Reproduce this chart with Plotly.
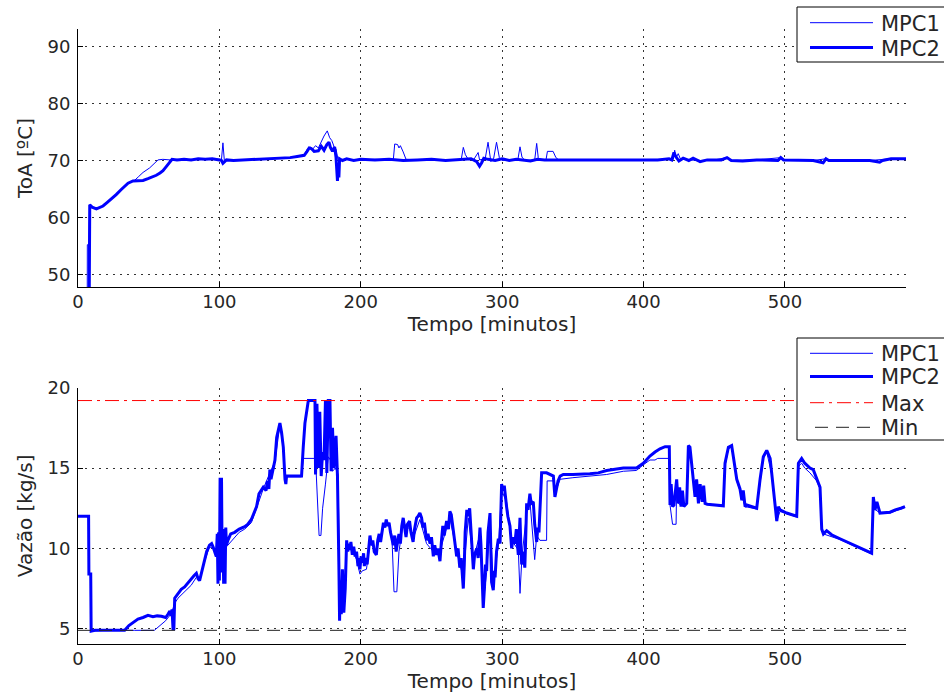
import plotly.graph_objects as go

# ---------------- data ----------------
x_range = [0, 585.6]
x_ticks = [0, 100, 200, 300, 400, 500]

# Outlet temperature (ToA) under the two controllers
t_toa_mpc1 = [0, 6.5, 6.6, 7.8, 8.2, 8.3, 10, 13, 17.7, 20.5, 23.6, 27, 30.6, 33, 35.4, 38.9,
              40, 43, 46, 50.7, 54, 56.6, 60, 65, 70, 75, 80, 85, 90, 95, 100, 101.5, 102.5,
              103.5, 105, 110, 120, 130, 140, 150, 155, 160, 162, 164, 166, 168, 170, 172,
              174, 176.3, 178, 179.5, 181, 182.5, 184, 186, 190, 200, 210, 220, 223, 224,
              226, 227, 228, 230, 232, 240, 250, 260, 271, 272.5, 274, 276, 280, 283, 284,
              288, 290, 292, 294, 296, 298, 300, 305, 311, 312.6, 314, 316, 323, 324.4,
              325.5, 327, 331, 332, 336, 338, 340, 360, 380, 400, 410, 418, 421, 422, 423,
              424.5, 426, 432, 440, 450, 459, 462, 480, 497, 499, 520, 529, 531, 560, 575,
              585.6]
toa_mpc1 = [40, 40, 55.2, 55.2, 62.2, 62.2, 61.8, 61.5, 62.0, 62.6, 63.2, 64.0, 64.9, 65.5,
            66.0, 66.4, 66.5, 67.2, 67.9, 68.7, 69.5, 70.1, 70.2, 70.1, 70.2, 70.1, 70.2,
            70.1, 70.3, 70.2, 70.1, 70.2, 73.1, 70.0, 70.1, 70.0, 70.1, 70.2, 70.3, 70.5,
            70.6, 71.0, 71.9, 72.4, 72.0, 72.6, 72.2, 73.3, 74.3, 75.2, 74.0, 73.5, 72.5,
            72.0, 70.0, 70.1, 70.2, 70.1, 70.2, 70.1, 70.1, 72.9, 72.8, 72.2, 72.6, 71.5,
            70.2, 70.1, 70.2, 70.0, 70.1, 72.3, 71.0, 70.2, 70.2, 71.4, 70.1, 70.3, 73.2,
            69.8, 70.4, 73.2, 70.5, 70.0, 70.1, 70.0, 72.4, 70.6, 70.0, 70.1, 73.0, 70.5,
            70.0, 70.1, 71.6, 71.6, 70.5, 70.1, 70.1, 70.1, 70.2, 70.1, 70.2, 70.2, 71.8,
            70.5, 71.2, 70.3, 70.1, 70.0, 70.1, 70.5, 70.0, 70.1, 70.5, 70.1, 70.0, 70.3,
            70.0, 70.0, 70.3, 70.3]

t_toa_mpc2 = [0, 7.8, 8.3, 10, 13, 17.7, 20.5, 23.6, 27, 30.6, 33, 35.4, 38.9, 42, 46, 49.5,
              52, 55.4, 58, 60.1, 62, 63.6, 65.5, 66.5, 70, 75, 80, 85, 90, 95, 100, 101.5,
              102.5, 103.5, 105, 110, 120, 130, 140, 150, 155, 160, 162, 163.5, 165, 167,
              170, 172, 174, 176, 177.5, 178.5, 180, 181.5, 182.5, 183, 183.5, 184, 184.5,
              185, 187, 190, 195, 200, 210, 220, 230, 240, 250, 260, 270, 278, 282, 284,
              285.5, 287, 290, 295, 300, 305, 310, 315, 320, 325, 330, 350, 380, 400, 410,
              418, 420, 421.5, 423, 425, 428, 432, 435, 440, 445, 455, 459, 462, 470, 480,
              495, 497, 499, 520, 527, 529, 531, 560, 567, 569, 575, 585.6]
toa_mpc2 = [40, 40, 62.2, 61.8, 61.5, 62.0, 62.6, 63.2, 64.0, 64.9, 65.5, 66.0, 66.4, 66.4,
            66.5, 66.8, 67.0, 67.4, 67.8, 68.2, 68.8, 69.3, 70.0, 70.2, 70.1, 70.2, 70.1,
            70.3, 70.2, 70.3, 70.1, 70.0, 69.5, 69.8, 70.1, 70.0, 70.1, 70.2, 70.3, 70.5,
            70.7, 70.9, 71.6, 72.2, 72.1, 71.6, 71.7, 72.5, 71.8, 72.8, 73.2, 72.3, 71.6,
            72.4, 70.5, 67.5, 66.4, 69.5, 67.0, 70.3, 70.0, 70.3, 70.0, 70.2, 70.1, 70.2,
            70.0, 70.1, 70.2, 70.0, 70.1, 70.3, 69.8, 69.0, 69.6, 70.4, 70.2, 70.0, 70.3,
            70.0, 70.2, 70.0, 69.9, 70.2, 70.1, 70.1, 70.1, 70.2, 70.1, 70.3, 70.1, 71.4,
            70.6, 69.9, 70.4, 70.0, 70.4, 69.8, 70.1, 70.1, 70.5, 70.0, 69.9, 70.1, 70.0,
            70.5, 70.1, 70.0, 69.6, 70.3, 70.0, 70.0, 69.7, 70.0, 70.3, 70.3]

# Steam flow (Vazão) under the two controllers
t_flow_mpc1 = [0, 7.5, 7.7, 9.0, 9.3, 20, 40, 54, 58, 62, 66, 68.5, 70.7, 75.4, 80, 83.7, 86,
               89.6, 93, 95.5, 97.8, 99, 100.5, 102, 104, 106, 110.8, 114, 117.9, 122.6,
               126.3, 131, 135.7, 139.3, 142.8, 145.2, 146.4, 147.5, 158.1, 159.3, 168,
               169.5, 170.5, 171.8, 173, 175, 177, 178.5, 180, 182, 184, 184.8, 186, 188,
               190, 193, 197, 199.4, 201, 204, 206.5, 211, 215.9, 220, 222, 223.5, 225.5,
               227, 230, 234.5, 237, 241.8, 246.5, 251.3, 256, 260.7, 263, 267.8, 272.5,
               276, 279.6, 284.3, 286.6, 289, 291.4, 293.7, 297.3, 299.6, 303.1, 306.7,
               311.4, 312.6, 314, 317.3, 319.6, 323, 324.4, 326.7, 331.4, 331.8, 336.2,
               337.3, 341, 350, 362, 373.9, 385.7, 395, 399.8, 404.5, 408.1, 410, 418.2,
               418.7, 420.5, 423, 423.4, 424.5, 426.5, 430.5, 431.7, 434, 436.4, 440,
               443.5, 456.4, 457.6, 460, 462.3, 465.9, 468.2, 471.8, 480, 482.4, 484.7,
               487.1, 490.6, 493, 494.2, 496.5, 508.3, 509.5, 511.8, 514, 517.7, 522.4,
               524.8, 526, 527.2, 538.9, 550.7, 561.3, 562.5, 567.2, 574.3, 584.9]
flow_mpc1 = [12.0, 12.0, 8.4, 8.4, 4.85, 4.9, 4.9, 4.9, 5.2, 5.5, 5.95, 6.6, 6.9, 7.3, 7.7,
             8.2, 8.0, 9.2, 10.1, 10.0, 9.5, 10.8, 9.5, 11.0, 10.0, 10.2, 10.7, 11.0, 11.2,
             11.6, 12.5, 13.7, 14.7, 15.4, 17.7, 16.2, 14.3, 14.45, 14.45, 15.6, 15.6, 13.0,
             10.8, 10.8, 12.5, 14.0, 15.7, 15.5, 14.8, 15.0, 14.6, 8.0, 6.5, 7.0, 10.3,
             10.1, 9.3, 8.4, 8.6, 8.7, 10.3, 9.9, 11.4, 11.5, 10.8, 7.3, 7.3, 9.8, 11.6,
             11.2, 10.6, 11.8, 10.3, 9.8, 9.8, 11.3, 11.9, 9.8, 8.2, 11.9, 9.3, 10.9, 6.6,
             8.5, 11.7, 7.9, 10.2, 13.6, 12.9, 10.5, 9.9, 7.2, 9.5, 12.2, 13.0, 9.3, 10.8,
             10.5, 10.5, 14.2, 14.2, 13.4, 14.3, 14.4, 14.5, 14.6, 14.8, 14.85, 15.2, 15.5,
             15.5, 15.6, 15.6, 12.7, 11.5, 11.5, 14.0, 12.8, 12.7, 12.8, 16.2, 15.2, 13.3,
             13.9, 12.8, 12.6, 15.1, 16.2, 16.3, 14.2, 13.6, 12.6, 12.45, 14.2, 15.6, 16.0,
             14.6, 12.6, 11.7, 12.3, 11.95, 15.1, 15.3, 15.0, 14.7, 14.2, 13.7, 11.2, 10.9,
             10.55, 10.05, 9.65, 12.5, 12.2, 12.2, 12.55]

t_flow_mpc2 = [0, 7.5, 7.7, 9.0, 9.3, 12, 20, 33, 36, 40,
               42.4, 46, 49.5, 53, 56, 59, 62, 63.6, 65, 66,
               66.5, 67.2, 67.8, 68.4, 70.7, 73, 75.4, 78, 80, 82,
               83.7, 85, 86, 88, 89.6, 91, 93, 94.5, 95.5, 97,
               97.8, 98.5, 99, 99.5, 100, 100.5, 101, 101.5, 102, 102.5,
               103, 103.5, 104, 104.5, 105, 106, 108, 110.8, 114, 117.9,
               120, 122.6, 125, 126.3, 128, 131, 133, 134, 135, 135.7,
               136.5, 138.1, 139.3, 140.5, 142, 142.8, 144, 145.2, 146.4, 147,
               147.5, 158.1, 159.3, 160.5, 162.9, 167.6, 168, 169, 170, 171,
               172, 173, 174, 175, 176, 177, 178.2, 179, 180, 181,
               182.5, 183.5, 184.5, 185, 185.5, 186.2, 187, 188, 189,
               190, 190.8, 191.5, 192.3, 193, 194, 195, 196, 197, 198,
               198.8, 199.4, 200.2, 201, 202, 202.5, 203.5, 204.5, 205.5, 206.5,
               207.5, 208.5, 209.5, 211, 212, 213, 214, 215, 216, 217,
               218, 219, 220, 221, 222, 223, 224, 225, 226, 227,
               228, 229, 230, 231, 232, 233, 234.5, 235.5, 237, 238,
               239.5, 240.5, 241.8, 243, 244, 245, 246.5, 247.5, 249, 250,
               251.3, 252.3, 253.5, 254.5, 256, 257, 258, 259, 260.7, 262,
               263, 264, 265, 266, 267.8, 268.8, 270, 271, 272.5, 273.2,
               273.8, 275, 276, 277, 278, 279, 279.6, 280.5, 282, 283,
               284.3, 285, 285.5, 286.6, 287.5, 288.2, 289, 290, 291.4, 292,
               292.5, 293.7, 294.5, 295, 296, 297.3, 298.5, 299.6, 300.5, 301.5,
               302.3, 303.1, 304, 305.5, 306.7, 307.8, 309, 310, 311.4, 312.6,
               313.2, 313.8, 315, 316, 316.6, 317.3, 318.3, 319.6, 320.5, 322,
               323, 324.4, 325.2, 326,
               327.9, 331.4, 336.2, 337.3, 339.5, 341, 343.2, 350, 362, 368,
               373.9, 380, 385.7, 390, 395, 399.8, 404.5, 408.1, 411.6, 415.2,
               418.2, 418.7, 419.5, 420.5, 421.5, 423.4, 424.5, 425.5, 426.5, 427.5,
               428.5, 430.5, 431.7, 432.8, 434, 435, 436.4, 437.5, 438.8, 440,
               441.5, 442.5, 443.5, 445, 450, 456.4, 457.6, 460, 462.3, 463.5,
               465.9, 468.2, 469.5, 470.5, 471.8, 473, 476, 480, 482.4, 484.7,
               487.1, 489.5, 490.6, 491.8, 493, 494.2, 495.3, 496.5, 501.2, 505,
               508.3, 509.5, 511.8, 514, 517.7, 520, 522.4, 524.8, 526, 527.2,
               529.5, 533, 538.9, 545, 550.7, 556, 561.3, 562.5, 563.7, 565,
               567.2, 574.3, 578, 582, 584.9]
flow_mpc2 = [12.0, 12.0, 8.4, 8.4, 4.85, 4.9, 4.9, 4.9, 5.2, 5.45,
             5.6, 5.7, 5.83, 5.75, 5.8, 5.78, 5.7, 5.9, 6.1, 5.8,
             6.2, 5.0, 5.0, 6.9, 7.2, 7.45, 7.6, 7.9, 8.1, 8.3,
             8.45, 8.1, 8.0, 8.7, 9.3, 9.8, 10.2, 10.3, 10.1, 9.7,
             9.5, 10.9, 7.8, 11.0, 8.0, 14.4, 9.0, 14.4, 8.5, 11.2,
             7.8, 11.0, 7.8, 11.3, 10.2, 10.5, 10.9, 11.0, 11.2, 11.35,
             11.5, 11.8, 12.3, 12.6, 13.4, 13.8, 13.6, 14.2, 13.7, 14.9,
             14.3, 15.1, 15.5, 16.9, 17.4, 17.8, 17.2, 16.3, 14.3, 14.0,
             14.5, 14.5, 16.3, 17.8, 19.2, 19.2, 14.6, 19.0, 15.0, 18.5,
             14.5, 16.0, 15.5, 19.2, 14.7, 19.2, 19.2, 14.8, 17.5, 15.0,
             17.0, 14.5, 9.0, 5.5, 8.0, 5.9, 8.7, 6.0, 7.5,
             10.5, 9.8, 10.3, 9.9, 10.4, 9.6, 10.1, 9.5, 9.8, 8.9,
             9.4, 8.7, 9.5, 9.1, 9.7, 8.9, 9.4, 9.0, 10.2, 10.8,
             10.2, 10.5, 9.8, 9.6, 10.5, 10.9, 10.4, 11.2, 11.6, 11.3,
             11.8, 11.4, 11.6, 11.0, 10.6, 10.2, 10.8, 9.8, 10.4, 10.9,
             10.3, 11.4, 11.9, 11.2, 10.7, 11.5, 11.7, 11.0, 10.4, 11.2,
             11.9, 12.0, 12.2, 11.9, 11.3, 11.6, 10.5, 10.9, 10.3, 10.7,
             9.5, 10.2, 9.6, 10.0, 9.2, 10.4, 11.4, 10.8, 11.7, 11.2,
             12.3, 12.1, 11.5, 10.6, 9.5, 10.0, 8.8, 9.4, 7.5, 9.0,
             11.0, 12.4, 12.0, 12.5, 11.0, 9.5, 8.7, 9.6, 10.0, 9.4,
             11.3, 10.2, 8.7, 6.3, 7.6, 9.0, 8.6, 11.0, 12.2, 10.0,
             7.9, 7.4, 8.6, 8.2, 9.8, 10.6, 10.3, 14.0, 13.6, 13.9,
             13.0, 12.6, 12.0, 11.4, 10.0, 10.7, 10.3, 11.2, 9.6, 11.9,
             10.2, 9.0, 9.8, 8.8, 10.5, 12.8, 12.4, 13.4, 12.8, 12.9,
             11.5, 10.4, 11.3, 11.0,
             14.7, 14.7, 14.5, 13.2, 14.2, 14.5, 14.6, 14.6, 14.65, 14.7,
             14.85, 14.95, 15.0, 15.0, 15.0, 15.3, 15.75, 16.0, 16.2, 16.33,
             16.33, 12.7, 14.0, 12.6, 12.7, 14.3, 12.8, 13.8, 12.6, 13.6,
             12.6, 12.8, 16.4, 16.3, 15.3, 14.4, 13.2, 14.3, 12.8, 14.0,
             12.9, 13.9, 12.8, 12.75, 12.7, 12.65, 15.3, 16.3, 16.4, 15.7,
             14.3, 13.7, 13.0, 13.6, 12.6, 12.7, 12.6, 12.5, 14.3, 15.7,
             16.1, 15.6, 14.7, 13.6, 12.6, 11.7, 12.6, 12.4, 12.2, 12.1,
             12.0, 15.3, 15.6, 15.3, 15.0, 14.9, 14.3, 13.8, 11.2, 10.9,
             11.1, 10.85, 10.6, 10.35, 10.1, 9.9, 9.7, 13.2, 12.4, 12.9,
             12.2, 12.25, 12.4, 12.5, 12.6]

flow_max = 19.2
flow_min = 4.9

toa_range = [47.77, 93.1]
toa_ticks = [50, 60, 70, 80, 90]
flow_range = [4.05, 20.0]
flow_ticks = [5, 10, 15, 20]

for xs, ys in [(t_toa_mpc1, toa_mpc1), (t_toa_mpc2, toa_mpc2),
               (t_flow_mpc1, flow_mpc1), (t_flow_mpc2, flow_mpc2)]:
    assert len(xs) == len(ys), (len(xs), len(ys))

# ---------------- styling ----------------
W, H = 944, 695
BLUE = "#0000ff"
TXT = "#262626"
FONT = "DejaVu Sans"
FS_TICK = 18
FS_TITLE = 20
FS_LEG = 21
MAX_DASH = "14px,5px,3px,5px"
MIN_DASH = "13px,8px"


def px_x(p):
    return p / W


def px_y(p):
    return 1 - p / H


fig = go.Figure()

fig.add_trace(go.Scatter(x=t_toa_mpc1, y=toa_mpc1, mode="lines", name="MPC1",
                         line=dict(color=BLUE, width=1), xaxis="x", yaxis="y"))
fig.add_trace(go.Scatter(x=t_toa_mpc2, y=toa_mpc2, mode="lines", name="MPC2",
                         line=dict(color=BLUE, width=3), xaxis="x", yaxis="y"))
fig.add_trace(go.Scatter(x=t_flow_mpc1, y=flow_mpc1, mode="lines", name="MPC1",
                         line=dict(color=BLUE, width=1), xaxis="x2", yaxis="y2"))
fig.add_trace(go.Scatter(x=t_flow_mpc2, y=flow_mpc2, mode="lines", name="MPC2",
                         line=dict(color=BLUE, width=3), xaxis="x2", yaxis="y2"))
fig.add_trace(go.Scatter(x=x_range, y=[flow_max, flow_max], mode="lines", name="Max",
                         line=dict(color="#ff0000", width=1, dash=MAX_DASH),
                         xaxis="x2", yaxis="y2"))
fig.add_trace(go.Scatter(x=x_range, y=[flow_min, flow_min], mode="lines", name="Min",
                         line=dict(color="#222222", width=1, dash=MIN_DASH),
                         xaxis="x2", yaxis="y2"))

axis_common = dict(
    automargin=False,
    showline=True, linecolor="#000000", linewidth=1, mirror=False,
    ticks="inside", ticklen=5, tickcolor="#000000",
    showgrid=True, gridcolor="#333333", gridwidth=1, griddash="2px,5px",
    zeroline=False,
    tickfont=dict(family=FONT, size=FS_TICK, color=TXT),
)
x_common = dict(axis_common, ticklabelstandoff=-2)
y_common = dict(axis_common, ticklabelstandoff=3)
title_font = dict(family=FONT, size=FS_TITLE, color=TXT)

x_dom = [px_x(78), px_x(906)]

fig.update_layout(
    width=W, height=H,
    margin=dict(l=0, r=0, t=0, b=0),
    paper_bgcolor="white", plot_bgcolor="white",
    showlegend=False,
    xaxis=dict(x_common, domain=x_dom, range=x_range, tickvals=x_ticks, anchor="y",
               title=dict(text="Tempo [minutos]", standoff=6, font=title_font)),
    yaxis=dict(y_common, domain=[px_y(287), px_y(29)], range=toa_range,
               tickvals=toa_ticks, anchor="x",
               title=dict(text="ToA [ºC]", standoff=9, font=title_font)),
    xaxis2=dict(x_common, domain=x_dom, range=x_range, tickvals=x_ticks, anchor="y2",
                title=dict(text="Tempo [minutos]", standoff=6, font=title_font)),
    yaxis2=dict(y_common, domain=[px_y(644), px_y(387.7)], range=flow_range,
                tickvals=flow_ticks, anchor="x2",
                title=dict(text="Vazão [kg/s]", standoff=9, font=title_font)),
)

# ---------------- legend boxes (open on the right edge of the page) ----------------
shapes = []
annots = []


def legend_box(top, bottom, entries):
    shapes.append(dict(type="rect", xref="paper", yref="paper",
                       x0=px_x(797), x1=px_x(990), y0=px_y(bottom), y1=px_y(top),
                       line=dict(color="#000000", width=1), fillcolor="white",
                       layer="above"))
    for label, ypix, style in entries:
        shapes.append(dict(type="line", xref="paper", yref="paper",
                           x0=px_x(style.get("x0", 810)), x1=px_x(873),
                           y0=px_y(ypix), y1=px_y(ypix),
                           line=dict(color=style["color"], width=style["width"],
                                     dash=style.get("dash", "solid")),
                           layer="above"))
        annots.append(dict(text=label, xref="paper", yref="paper",
                           x=px_x(879), y=px_y(ypix + 1), xanchor="left",
                           yanchor="middle", showarrow=False,
                           font=dict(family=FONT, size=FS_LEG, color=TXT)))


legend_box(7, 62, [
    ("MPC1", 22.7, dict(color=BLUE, width=1)),
    ("MPC2", 47.5, dict(color=BLUE, width=3)),
])
legend_box(338, 440, [
    ("MPC1", 353.3, dict(color=BLUE, width=1)),
    ("MPC2", 376.5, dict(color=BLUE, width=3)),
    ("Max", 402.7, dict(color="#ff0000", width=1, dash=MAX_DASH)),
    ("Min", 427.3, dict(color="#222222", width=1, dash=MIN_DASH, x0=815)),
])

fig.update_layout(shapes=shapes, annotations=annots)

fig.write_html("out.html")
